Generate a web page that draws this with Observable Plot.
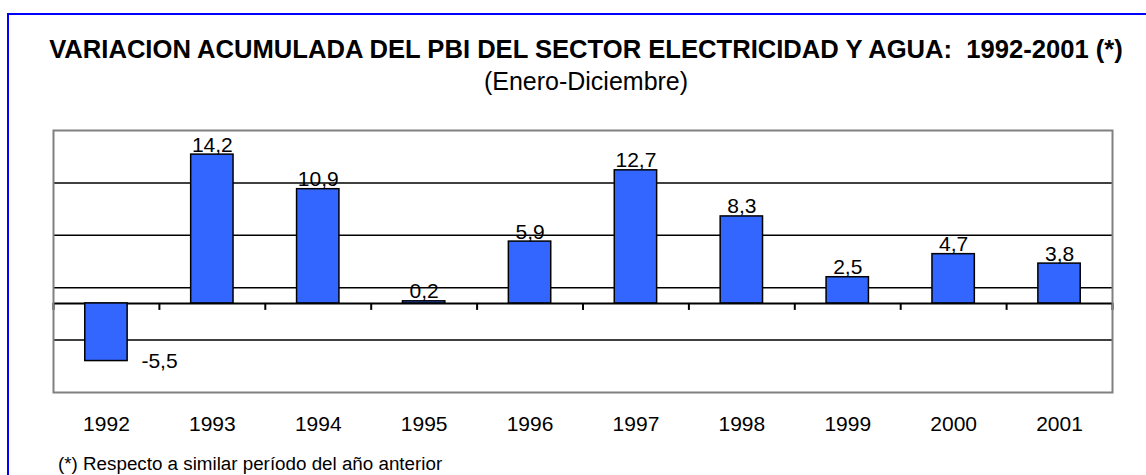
<!DOCTYPE html>
<html>
<head>
<meta charset="utf-8">
<script src="https://cdn.jsdelivr.net/npm/d3@7"></script>
<script src="https://cdn.jsdelivr.net/npm/@observablehq/plot@0.6"></script>
<style>
  html, body { margin: 0; padding: 0; background: #fff; }
  body { width: 1146px; height: 475px; overflow: hidden; position: relative;
         font-family: "Liberation Sans", Arial, sans-serif; color: #000; }
  #frame { position: absolute; left: 7px; top: 13px; width: 1300px; height: 600px;
           border-left: 2px solid #0000ff; border-top: 2px solid #0000ff; }
  #title { position: absolute; left: 0; width: 1172px; top: 37px; text-align: center;
           font-size: 25.6px; font-weight: bold; line-height: 25px; white-space: pre; }
  #subtitle { position: absolute; left: 0; width: 1172px; top: 69px; text-align: center;
              font-size: 25px; line-height: 25px; }
  #chart { position: absolute; left: 0; top: 110px; }
  #note { position: absolute; left: 58px; top: 455px; font-size: 18.8px; line-height: 18.8px; white-space: pre; }
</style>
</head>
<body>
<div id="frame"></div>
<div id="title"></div>
<div id="subtitle"></div>
<div id="chart"></div>
<div id="note"></div>
<script>
const titleText = "VARIACION ACUMULADA DEL PBI DEL SECTOR ELECTRICIDAD Y AGUA:  1992-2001 (*)";
const subtitleText = "(Enero-Diciembre)";
const noteText = "(*) Respecto a similar período del año anterior";

const years = [1992, 1993, 1994, 1995, 1996, 1997, 1998, 1999, 2000, 2001];
const values = [-5.5, 14.2, 10.9, 0.2, 5.9, 12.7, 8.3, 2.5, 4.7, 3.8];
const yDomain = [-8.5, 16.5];
const gridValues = [-3.5, 1.5, 6.5, 11.5];

document.getElementById("title").textContent = titleText;
document.getElementById("subtitle").textContent = subtitleText;
document.getElementById("note").textContent = noteText;

const data = years.map((year, i) => ({year, value: values[i]}));
const boundaries = [...years.map(y => y - 0.5), years[years.length - 1] + 0.5];
const fmt = v => v.toFixed(1).replace(".", ",");
const pos = data.filter(d => d.value >= 0);
const neg = data.filter(d => d.value < 0);

const chart = Plot.plot({
  width: 1146,
  height: 340,
  marginLeft: 53,
  marginRight: 34,
  marginTop: 20,
  marginBottom: 58,
  style: {fontFamily: "'Liberation Sans', Arial, sans-serif", color: "#000", background: "transparent"},
  x: {domain: [years[0] - 0.5, years[years.length - 1] + 0.5], label: null},
  y: {domain: yDomain, axis: null},
  marks: [
    Plot.ruleY(gridValues, {stroke: "#000", strokeWidth: 1.5}),
    Plot.ruleY([0], {stroke: "#000", strokeWidth: 2}),
    Plot.ruleX(boundaries, {x: d => d, y1: 0, y2: 0, insetBottom: -7, stroke: "#000", strokeWidth: 2}),
    Plot.rectY(data, {x1: d => d.year - 0.2, x2: d => d.year + 0.2, y: "value", fill: "#3366ff", stroke: "#000", strokeWidth: 1.5}),
    Plot.text(pos, {x: "year", y: "value", text: d => fmt(d.value), lineAnchor: "bottom", dy: -3, fontSize: 21, fill: "#000"}),
    Plot.text(neg, {x: "year", y: "value", text: d => fmt(d.value), textAnchor: "start", dx: 35, lineAnchor: "middle", fontSize: 21, fill: "#000"}),
    Plot.frame({stroke: "#808080", strokeWidth: 2}),
    Plot.axisX({ticks: years, tickFormat: d => String(d), tickSize: 0, tickPadding: 24, fontSize: 21, label: null})
  ]
});
document.getElementById("chart").appendChild(chart);
</script>
</body>
</html>
